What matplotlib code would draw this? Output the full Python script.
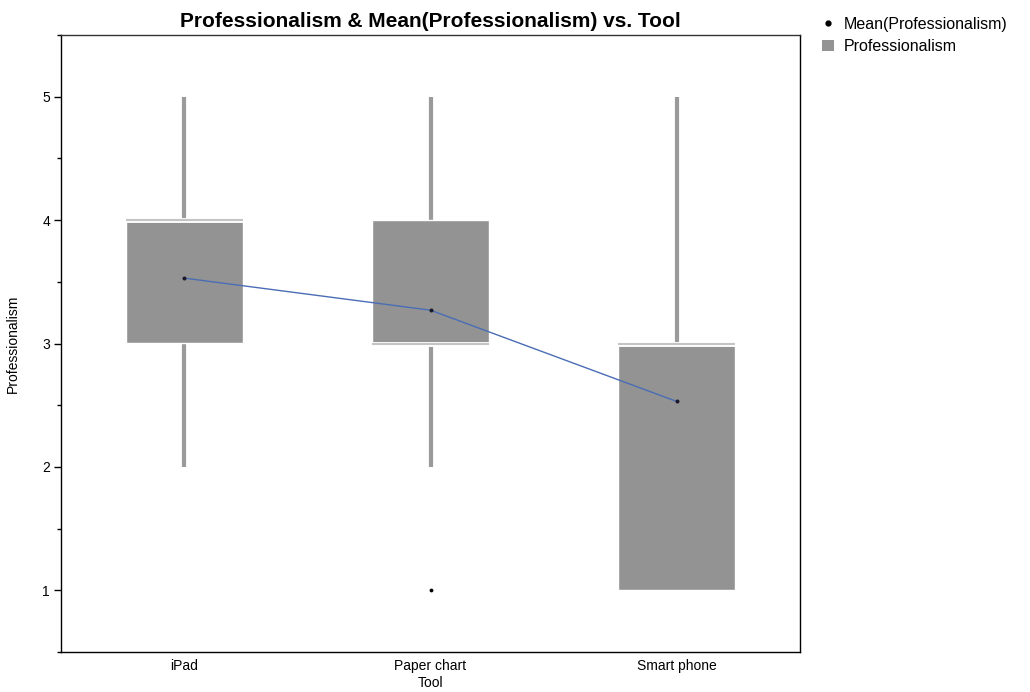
import numpy as np
import matplotlib
matplotlib.use("Agg")
import matplotlib.pyplot as plt
import matplotlib.patheffects as pe
from matplotlib.lines import Line2D
from matplotlib.patches import Patch

plt.rcParams['font.family'] = ['Liberation Sans', 'DejaVu Sans']

tools = ['iPad', 'Paper chart', 'Smart phone']
q1 = [3, 3, 1]
q3 = [4, 4, 3]
median = [4, 3, 3]
whisk_lo = [2, 2, 1]
whisk_hi = [5, 5, 5]
means = [3.53, 3.27, 2.53]
outliers_x = ['Paper chart']
outliers_y = [1]

box_color = '#939393'
whisk_color = '#9a9a9a'
line_color = '#4a6db5'

fig = plt.figure(figsize=(10.3, 6.92), dpi=100)
ax = fig.add_axes([61/1030, 40/692, 739/1030, 617/692])

x = np.arange(len(tools))
half = 0.237

# whiskers
ax.vlines(x, whisk_lo, q1, color=whisk_color, lw=3, zorder=1)
ax.vlines(x, q3, whisk_hi, color=whisk_color, lw=3, zorder=1)

# boxes
ax.bar(x, np.array(q3) - np.array(q1), bottom=q1, width=2 * half,
       color=box_color, edgecolor='white', linewidth=1, zorder=2)

# median lines
ax.hlines(median, x - half, x + half, color='#c4c4c4', lw=1.5, zorder=3,
          path_effects=[pe.Stroke(linewidth=3.5, foreground='white'), pe.Normal()])

# outliers
ox = [tools.index(t) for t in outliers_x]
ax.scatter(ox, outliers_y, s=3, color='black', zorder=4)

# mean line
ax.plot(x, means, color=line_color, lw=1, zorder=5)
ax.scatter(x, means, s=3.5, color='#1a1a2a', zorder=6)

ax.set_xlim(-0.5, 2.5)
ax.set_ylim(0.5, 5.5)
ax.set_xticks(x)
ax.set_xticklabels(tools, fontsize=10)
ax.tick_params(axis='x', length=0, pad=5)
ax.set_yticks([1, 2, 3, 4, 5])
ax.set_yticks([0.5, 1.5, 2.5, 3.5, 4.5, 5.5], minor=True)
ax.tick_params(axis='y', labelsize=10, length=5, width=1, pad=3)
ax.tick_params(axis='y', which='minor', length=3, width=1)
for s in ax.spines.values():
    s.set_linewidth(1)
ax.spines['top'].set_color('#333333')

ax.set_xlabel('Tool', fontsize=10, labelpad=2)
ax.set_ylabel('Professionalism', fontsize=10, labelpad=16)
ax.set_title('Professionalism & Mean(Professionalism) vs. Tool',
             fontsize=15, fontweight='bold', pad=6)

handles = [
    Line2D([], [], marker='o', ls='none', color='black', markersize=3.5),
    Patch(facecolor=box_color, edgecolor='none'),
]
fig.legend(handles, ['Mean(Professionalism)', 'Professionalism'],
           loc='upper left', bbox_to_anchor=(812/1030, 1 - 7/692), frameon=False,
           fontsize=11.5, handlelength=0.8, handletextpad=0.6, labelspacing=0.45,
           borderaxespad=0.2)

fig.savefig('out.png', dpi=100)
